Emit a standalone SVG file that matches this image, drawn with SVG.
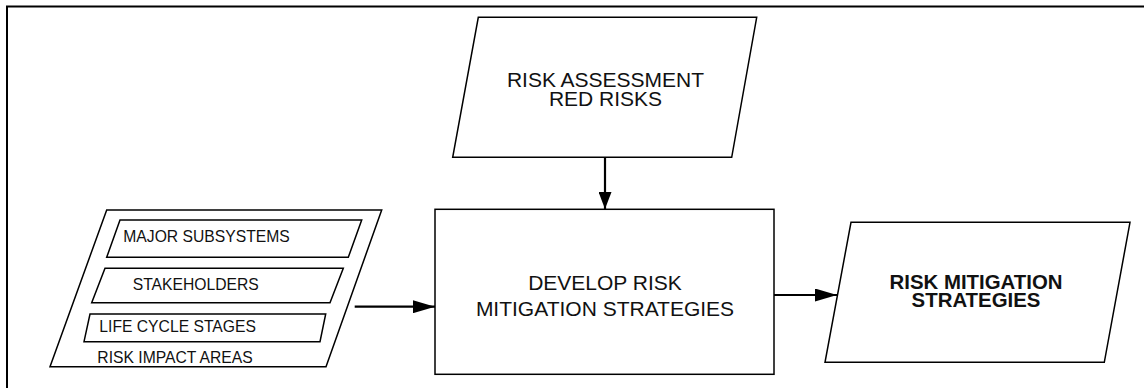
<svg xmlns="http://www.w3.org/2000/svg" width="1144" height="388" viewBox="0 0 1144 388">
<style>
.s{fill:#fff;stroke:#000;stroke-width:1.5;}
.t{font-family:"Liberation Sans",Arial,sans-serif;fill:#111;}
.c{stroke:#000;stroke-width:2.2;fill:none;}
</style>
<defs>
<marker id="ah" markerWidth="22" markerHeight="13" refX="22" refY="6.5" orient="auto" markerUnits="userSpaceOnUse">
<path d="M0,0 L22,6.5 L0,13 Z" fill="#000"/>
</marker>
<marker id="ahv" markerWidth="17" markerHeight="13" refX="17" refY="6.5" orient="auto" markerUnits="userSpaceOnUse">
<path d="M0,0 L17,6.5 L0,13 Z" fill="#000"/>
</marker>
</defs>
<rect width="1144" height="388" fill="#fff"/>
<path d="M7,388 V6.5 H1144" fill="none" stroke="#000" stroke-width="2"/>
<g id="risk-assessment">
<polygon class="s" points="478.3,17.3 756.7,17.3 731.7,157.3 452.7,157.3"/>
<text class="t" font-size="21" text-anchor="middle" x="605.5" y="86.7">RISK ASSESSMENT</text>
<text class="t" font-size="21" text-anchor="middle" x="605.5" y="105.7">RED RISKS</text>
</g>
<g id="risk-impact-areas">
<polygon class="s" points="106.7,210 381.7,210 326,366.7 50,366.7"/>
<polygon class="s" points="120,220 361.7,220 348.3,257.3 106.7,257.3"/>
<text class="t" font-size="15.7" x="123.3" y="242.3">MAJOR SUBSYSTEMS</text>
<polygon class="s" points="105,268.3 343.3,268.3 330,302.7 91.7,302.7"/>
<text class="t" font-size="15.7" x="132.7" y="290">STAKEHOLDERS</text>
<polygon class="s" points="90,314 325.7,314 320,341.7 84,341.7"/>
<text class="t" font-size="15.7" x="99.3" y="331.7">LIFE CYCLE STAGES</text>
<text class="t" font-size="15.7" x="97.3" y="362.7">RISK IMPACT AREAS</text>
</g>
<g id="develop">
<rect class="s" x="435" y="209.3" width="339" height="165"/>
<text class="t" font-size="21" text-anchor="middle" x="605" y="290">DEVELOP RISK</text>
<text class="t" font-size="21" text-anchor="middle" x="605" y="315.7">MITIGATION STRATEGIES</text>
</g>
<g id="risk-mitigation-strategies">
<polygon class="s" points="851,222.3 1130,222.3 1104.3,362.3 825,362.3"/>
<text class="t" font-size="20.4" font-weight="bold" text-anchor="middle" x="976" y="289.3">RISK MITIGATION</text>
<text class="t" font-size="20.4" font-weight="bold" text-anchor="middle" x="976" y="306.7">STRATEGIES</text>
</g>
<g id="connectors">
<line class="c" x1="605" y1="157.3" x2="605" y2="209" marker-end="url(#ahv)"/>
<line class="c" x1="354.7" y1="306.7" x2="435" y2="306.7" marker-end="url(#ah)"/>
<line class="c" x1="774" y1="295" x2="837" y2="295" marker-end="url(#ah)"/>
</g>
</svg>
